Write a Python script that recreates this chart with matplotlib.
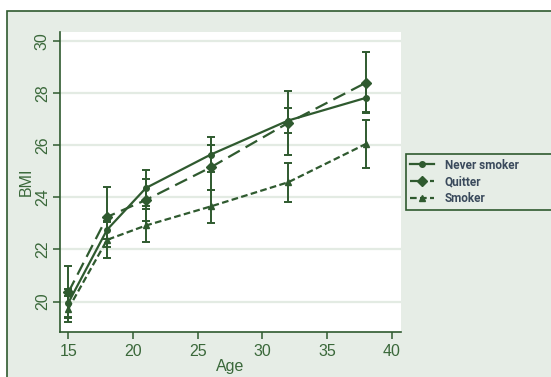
import numpy as np
import matplotlib
matplotlib.use('Agg')
import matplotlib.pyplot as plt
from matplotlib.patches import Rectangle

age = [15, 18, 21, 26, 32, 38]

never_bmi = [19.95, 22.76, 24.36, 25.64, 26.95, 27.82]
never_err = [0.55, 0.35, 0.68, 0.66, 0.48, 0.55]

quitter_bmi = [20.35, 23.25, 23.90, 25.15, 26.86, 28.40]
quitter_err = [1.00, 1.15, 0.80, 0.85, 1.24, 1.17]

smoker_bmi = [19.72, 22.37, 22.92, 23.65, 24.58, 26.05]
smoker_err = [0.50, 0.70, 0.62, 0.65, 0.75, 0.93]

labels = ['Never smoker', 'Quitter', 'Smoker']

green = '#2f5a2f'
tick_green = '#3a683a'
bg = '#e6ede6'

plt.rcParams['font.family'] = ['Liberation Sans', 'DejaVu Sans']

fig = plt.figure(figsize=(5.51, 3.77), dpi=100)
fig.patch.set_facecolor('white')
# outer green frame behind everything
fig.patches.append(Rectangle((7 / 551, -0.05), 1.1, 1 - 11 / 377 + 0.05,
                             transform=fig.transFigure, facecolor=bg,
                             edgecolor=green, linewidth=1.2, zorder=-10))
# legend box, runs off the right edge like the original
fig.patches.append(Rectangle((405.5 / 551, 1 - 209.5 / 377), 0.4, 55.5 / 377,
                             transform=fig.transFigure, facecolor=bg,
                             edgecolor=green, linewidth=1.2, zorder=-5))

ax = fig.add_axes([0.1094, 0.1186, 0.6184, 0.7973])
ax.set_facecolor('white')

series = [
    (never_bmi, never_err, '-', 'o', 4),
    (quitter_bmi, quitter_err, (0, (6, 3)), 'D', 5),
    (smoker_bmi, smoker_err, (0, (3, 1.5)), '^', 5),
]
handles = []
for (vals, err, ls, mk, ms), lab in zip(series, labels):
    ax.errorbar(age, vals, yerr=err, fmt='none', ecolor=green,
                elinewidth=1.4, capsize=3.2, capthick=1.4, zorder=3)
    h, = ax.plot(age, vals, linestyle=ls, marker=mk, markersize=ms,
                 color=green, linewidth=1.6, zorder=4, label=lab)
    handles.append(h)

ax.set_xlim(14.38, 40.72)
ax.set_ylim(18.82, 30.36)
ax.set_xticks([15, 20, 25, 30, 35, 40])
ax.set_yticks([20, 22, 24, 26, 28, 30])
ax.yaxis.grid(True, color='#e3ebe3', linewidth=1.6)
ax.set_axisbelow(True)

for s in ['top', 'right']:
    ax.spines[s].set_visible(False)
for s in ['left', 'bottom']:
    ax.spines[s].set_color(green)
    ax.spines[s].set_linewidth(1.2)

ax.tick_params(axis='both', colors=green, length=5, width=1.1,
               labelcolor=tick_green, labelsize=11.5)
ax.tick_params(axis='y', pad=2.5)
for t in ax.get_yticklabels():
    t.set_rotation(90)
    t.set_va('center')

ax.set_xlabel('Age', color=tick_green, fontsize=11.5, labelpad=0)
ax.set_ylabel('BMI', color=tick_green, fontsize=11.5, labelpad=1)

leg = fig.legend(handles=handles, labels=labels,
                 loc='upper left', bbox_to_anchor=(406 / 551, 1 - 155 / 377),
                 borderaxespad=0, frameon=False, handlelength=2.1,
                 handletextpad=0.9, borderpad=0.3, labelspacing=0.32,
                 prop={'family': 'Roboto', 'weight': 'bold', 'size': 8.5})
for t in leg.get_texts():
    t.set_color('#3a4a5c')

fig.savefig('out.png', dpi=100, facecolor=fig.get_facecolor())
